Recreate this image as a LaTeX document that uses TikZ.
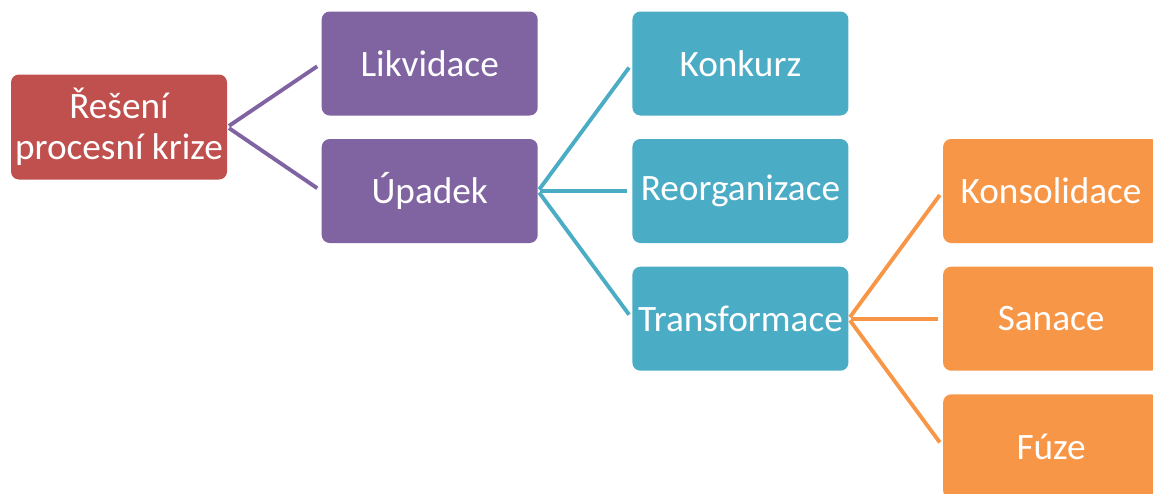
\documentclass[tikz,border=0pt]{standalone}
\usepackage{fontspec}
\setmainfont{Carlito}
\usepackage{tikz}
\usetikzlibrary{positioning}

\definecolor{krizered}{HTML}{C0504D}
\definecolor{krizepurple}{HTML}{8064A2}
\definecolor{krizeteal}{HTML}{4BACC6}
\definecolor{krizeorange}{HTML}{F79646}

\tikzset{
    box/.style={rectangle, rounded corners=0.16cm, minimum width=4.32cm, minimum height=2.08cm, inner sep=0pt, text=white, align=center, font=\fontsize{21.2}{23.5}\selectfont},
    link/.style={line width=2.2pt, shorten <=0.04cm, shorten >=0.1cm}
}

\begin{document}
\begin{tikzpicture}[node distance=1.88cm]

    \useasboundingbox (0,0) rectangle (23.06,-9.86);

    % Root node
    \node (reseni) [box, fill=krizered, minimum height=2.1cm] at (2.38,-2.54) {Řešení\\procesní krize};

    % Second level
    \node (likvidace) [box, fill=krizepurple, right=of reseni, yshift=1.27cm] {Likvidace};
    \node (upadek) [box, fill=krizepurple, right=of reseni, yshift=-1.28cm] {Úpadek};

    % Third level, next to the two purple boxes
    \node (konkurz) [box, fill=krizeteal, right=of likvidace] {Konkurz};
    \node (reorganizace) [box, fill=krizeteal, right=of upadek] {Reorganizace};
    \node (transformace) [box, fill=krizeteal, below=0.46cm of reorganizace] {Transformace};

    % Fourth level
    \node (konsolidace) [box, fill=krizeorange, right=of reorganizace] {Konsolidace};
    \node (sanace) [box, fill=krizeorange, right=of transformace] {Sanace};
    \node (fuze) [box, fill=krizeorange, below=0.46cm of sanace] {Fúze};

    % Connectors
    \draw[link, krizepurple] (reseni.east) -- (likvidace.west);
    \draw[link, krizepurple] (reseni.east) -- (upadek.west);

    \draw[link, krizeteal] (upadek.east) -- (konkurz.west);
    \draw[link, krizeteal] (upadek.east) -- (reorganizace.west);
    \draw[link, krizeteal] (upadek.east) -- (transformace.west);

    \draw[link, krizeorange] (transformace.east) -- (konsolidace.west);
    \draw[link, krizeorange] (transformace.east) -- (sanace.west);
    \draw[link, krizeorange] (transformace.east) -- (fuze.west);

\end{tikzpicture}
\end{document}
